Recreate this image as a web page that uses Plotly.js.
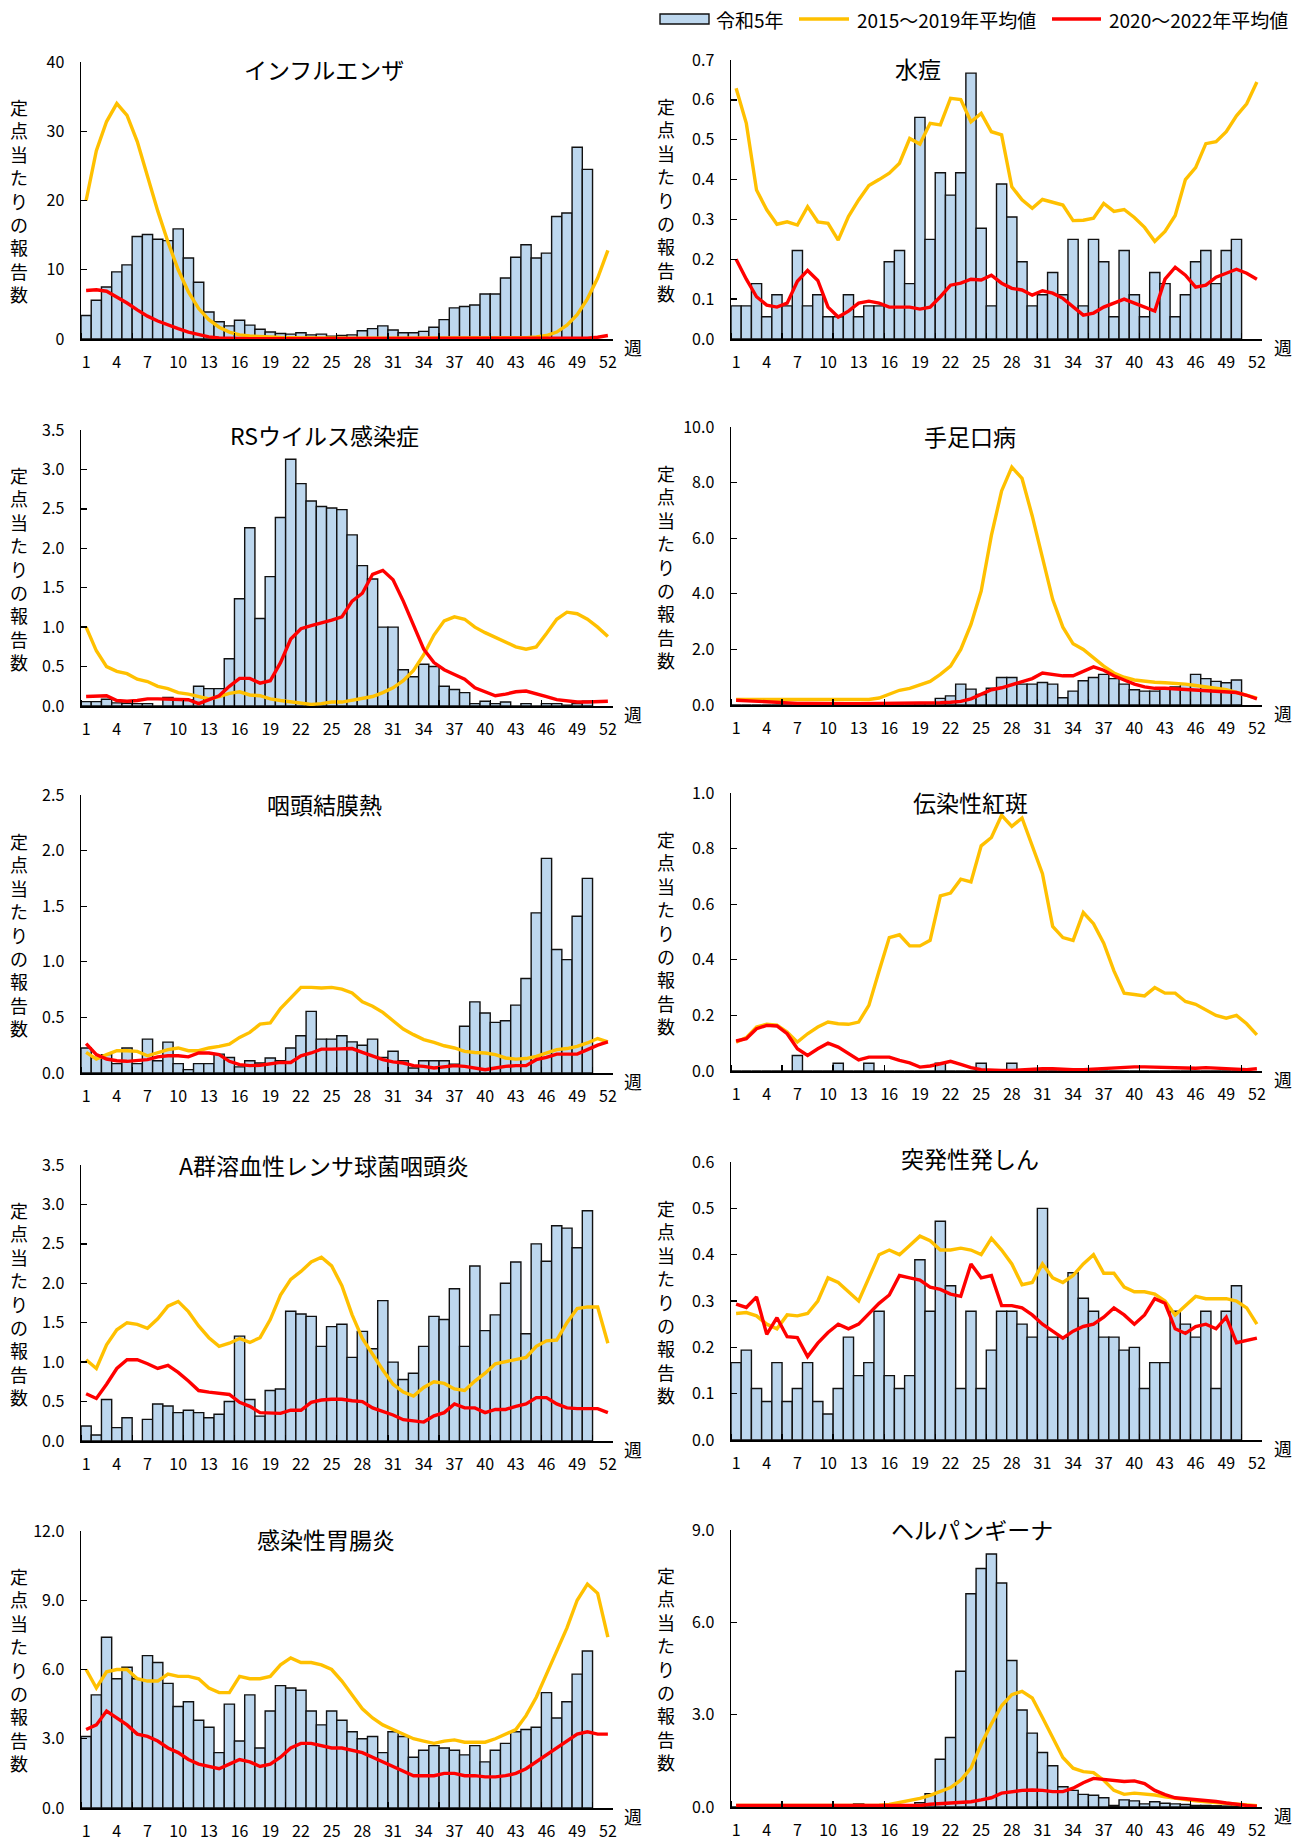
<!DOCTYPE html>
<html><head><meta charset="utf-8">
<script src="https://cdn.plot.ly/plotly-3.0.1.min.js"></script>
<style>html,body{margin:0;padding:0;background:#fff}#chart{width:1304px;height:1842px}</style>
</head><body><div id="chart"></div>
<script>
// ---- categories ----
const weeks = [1,2,3,4,5,6,7,8,9,10,11,12,13,14,15,16,17,18,19,20,21,22,23,24,25,26,27,28,29,30,31,32,33,34,35,36,37,38,39,40,41,42,43,44,45,46,47,48,49,50,51,52];
const weekTicks = [1,4,7,10,13,16,19,22,25,28,31,34,37,40,43,46,49,52];
const seriesNames = ['令和5年','2015～2019年平均値','2020～2022年平均値'];

// ---- インフルエンザ ----
const fluR5 = [3.4,5.6,7.5,9.7,10.7,14.8,15.1,14.4,14.2,15.9,11.7,8.2,3.9,2.5,1.9,2.7,2.0,1.4,1.0,0.8,0.7,0.9,0.6,0.7,0.4,0.5,0.6,1.2,1.5,1.9,1.3,0.9,0.9,1.1,1.7,2.8,4.5,4.7,4.9,6.5,6.5,8.8,11.8,13.6,11.7,12.4,17.7,18.2,27.7,24.5];
const flu1519 = [20.0,27.2,31.4,34.0,32.3,28.5,23.5,18.5,14.0,10.0,6.8,4.4,2.8,1.7,1.0,0.6,0.45,0.35,0.28,0.22,0.18,0.15,0.12,0.1,0.1,0.1,0.1,0.1,0.1,0.1,0.1,0.1,0.1,0.1,0.1,0.1,0.1,0.1,0.1,0.1,0.1,0.12,0.15,0.2,0.3,0.5,1.0,2.0,3.5,5.8,8.8,12.8];
const flu2022 = [7.0,7.1,6.9,6.1,5.2,4.2,3.3,2.6,2.0,1.5,1.0,0.6,0.3,0.15,0.08,0.05,0.05,0.05,0.05,0.05,0.05,0.05,0.05,0.05,0.05,0.05,0.05,0.05,0.05,0.05,0.05,0.05,0.05,0.05,0.05,0.05,0.05,0.05,0.05,0.05,0.05,0.05,0.05,0.05,0.05,0.06,0.07,0.08,0.1,0.12,0.25,0.5];

// ---- 水痘 ----
const varR5 = [0.083,0.083,0.139,0.056,0.111,0.083,0.222,0.083,0.111,0.056,0.056,0.111,0.056,0.083,0.083,0.194,0.222,0.139,0.556,0.25,0.417,0.361,0.417,0.667,0.278,0.083,0.389,0.306,0.194,0.083,0.111,0.167,0.111,0.25,0.083,0.25,0.194,0.056,0.222,0.111,0.056,0.167,0.139,0.056,0.111,0.194,0.222,0.139,0.222,0.25];
const var1519 = [0.629,0.541,0.374,0.324,0.288,0.294,0.286,0.332,0.294,0.29,0.248,0.307,0.349,0.385,0.4,0.416,0.441,0.503,0.489,0.541,0.537,0.604,0.601,0.545,0.566,0.52,0.512,0.382,0.349,0.328,0.35,0.344,0.336,0.297,0.298,0.303,0.34,0.32,0.325,0.305,0.28,0.245,0.27,0.31,0.4,0.43,0.49,0.495,0.52,0.56,0.59,0.645];
const var2022 = [0.2,0.15,0.106,0.085,0.08,0.09,0.145,0.172,0.147,0.08,0.055,0.07,0.09,0.095,0.09,0.08,0.08,0.08,0.075,0.08,0.106,0.135,0.14,0.15,0.148,0.16,0.14,0.127,0.123,0.11,0.121,0.115,0.102,0.081,0.06,0.065,0.08,0.09,0.1,0.09,0.08,0.07,0.15,0.18,0.16,0.13,0.135,0.155,0.165,0.175,0.165,0.15];

// ---- RSウイルス感染症 ----
const rsR5 = [0.055,0.055,0.085,0.04,0.034,0.03,0.03,0,0.11,0.08,0.08,0.25,0.22,0.22,0.6,1.36,2.26,1.11,1.64,2.39,3.13,2.82,2.6,2.53,2.51,2.49,2.17,1.78,1.61,1.0,1.0,0.46,0.37,0.53,0.5,0.25,0.21,0.17,0.03,0.06,0.03,0.05,0,0.03,0,0.03,0.03,0.01,0.03,0.06];
const rs1519 = [1.0,0.7,0.5,0.44,0.41,0.34,0.31,0.25,0.22,0.17,0.15,0.12,0.09,0.12,0.16,0.18,0.14,0.13,0.09,0.07,0.05,0.03,0.02,0.03,0.05,0.05,0.07,0.09,0.12,0.17,0.23,0.32,0.45,0.65,0.9,1.08,1.13,1.1,1.0,0.93,0.87,0.8,0.75,0.72,0.75,0.92,1.1,1.19,1.17,1.1,1.0,0.88];
const rs2022 = [0.12,0.13,0.13,0.07,0.06,0.07,0.09,0.09,0.09,0.08,0.08,0.03,0.08,0.13,0.25,0.35,0.35,0.29,0.32,0.55,0.85,0.98,1.02,1.05,1.09,1.13,1.33,1.43,1.67,1.72,1.6,1.33,1.03,0.72,0.55,0.46,0.4,0.34,0.23,0.18,0.13,0.15,0.18,0.19,0.16,0.12,0.08,0.06,0.05,0.05,0.06,0.06];

// ---- 手足口病 ----
const hfR5 = [0,0,0,0,0,0,0,0,0,0,0,0,0,0,0,0,0,0,0.08,0,0.24,0.33,0.75,0.57,0.38,0.6,0.99,0.99,0.75,0.75,0.81,0.75,0.26,0.5,0.87,0.99,1.1,0.95,0.75,0.55,0.5,0.5,0.6,0.65,0.75,1.1,0.95,0.85,0.8,0.9];
const hf1519 = [0.2,0.2,0.2,0.2,0.2,0.2,0.2,0.2,0.2,0.2,0.2,0.2,0.2,0.2,0.25,0.38,0.53,0.6,0.72,0.85,1.1,1.4,2.0,2.9,4.1,6.1,7.7,8.56,8.15,6.8,5.3,3.8,2.8,2.2,2.0,1.7,1.4,1.15,1.0,0.9,0.85,0.82,0.8,0.78,0.75,0.7,0.65,0.6,0.55,0.45,0.35,0.25];
const hf2022 = [0.17,0.15,0.12,0.1,0.08,0.07,0.06,0.06,0.05,0.05,0.05,0.05,0.05,0.05,0.05,0.05,0.05,0.05,0.06,0.06,0.08,0.1,0.13,0.22,0.4,0.55,0.62,0.72,0.82,0.95,1.15,1.1,1.05,1.05,1.22,1.37,1.25,1.05,0.9,0.75,0.65,0.6,0.6,0.58,0.55,0.55,0.52,0.5,0.5,0.45,0.35,0.22];

// ---- 咽頭結膜熱 ----
const pcfR5 = [0.225,0.14,0.165,0.084,0.225,0.084,0.305,0.11,0.278,0.084,0.03,0.084,0.084,0.17,0.14,0.055,0.11,0.09,0.135,0.11,0.225,0.335,0.554,0.305,0.305,0.335,0.28,0.25,0.305,0.14,0.195,0.11,0.045,0.11,0.11,0.11,0.08,0.42,0.64,0.54,0.455,0.47,0.61,0.85,1.44,1.93,1.11,1.02,1.41,1.75];
const pcf1519 = [0.185,0.126,0.165,0.2,0.2,0.195,0.155,0.185,0.21,0.225,0.2,0.2,0.225,0.24,0.26,0.32,0.365,0.44,0.45,0.58,0.67,0.77,0.77,0.765,0.77,0.755,0.72,0.64,0.6,0.545,0.47,0.395,0.345,0.3,0.275,0.245,0.225,0.195,0.185,0.18,0.165,0.135,0.125,0.13,0.15,0.18,0.21,0.22,0.24,0.27,0.31,0.28];
const pcf2022 = [0.265,0.165,0.126,0.11,0.105,0.11,0.12,0.145,0.155,0.155,0.145,0.18,0.18,0.165,0.105,0.075,0.066,0.07,0.08,0.095,0.095,0.155,0.18,0.215,0.215,0.22,0.22,0.185,0.15,0.12,0.1,0.09,0.066,0.06,0.045,0.054,0.066,0.06,0.045,0.03,0.045,0.06,0.066,0.066,0.12,0.14,0.17,0.17,0.17,0.21,0.25,0.28];

// ---- 伝染性紅斑 ----
const eiR5 = [0,0,0,0,0,0,0.056,0,0,0,0.028,0,0,0.028,0,0,0,0,0,0,0.028,0,0,0,0.028,0,0,0.028,0,0,0,0,0,0,0,0,0,0,0,0,0,0,0,0,0,0,0,0,0,0];
const ei1519 = [0.104,0.12,0.158,0.168,0.165,0.14,0.104,0.134,0.158,0.176,0.17,0.168,0.176,0.236,0.36,0.48,0.49,0.45,0.45,0.47,0.63,0.64,0.69,0.68,0.81,0.84,0.92,0.88,0.91,0.81,0.71,0.52,0.48,0.47,0.57,0.53,0.46,0.36,0.28,0.275,0.27,0.3,0.28,0.28,0.25,0.24,0.22,0.2,0.19,0.2,0.17,0.13];
const ei2022 = [0.108,0.116,0.152,0.164,0.162,0.134,0.08,0.056,0.08,0.1,0.086,0.062,0.04,0.05,0.05,0.05,0.038,0.029,0.014,0.018,0.026,0.035,0.024,0.012,0.005,0.002,0.002,0.002,0.005,0.008,0.008,0.008,0.005,0.005,0.005,0.007,0.01,0.012,0.015,0.015,0.015,0.014,0.012,0.01,0.008,0.01,0.012,0.01,0.008,0.005,0.005,0.008];

// ---- A群溶血性レンサ球菌咽頭炎 ----
const gasR5 = [0.19,0.076,0.527,0.17,0.295,0,0.274,0.47,0.443,0.36,0.39,0.36,0.295,0.34,0.5,1.33,0.527,0.316,0.64,0.66,1.645,1.61,1.58,1.2,1.45,1.48,1.06,1.39,1.17,1.78,1.0,0.78,0.86,1.2,1.58,1.54,1.93,1.2,2.22,1.4,1.6,2.0,2.27,1.36,2.5,2.28,2.73,2.7,2.45,2.92];
const gas1519 = [1.03,0.92,1.22,1.41,1.5,1.48,1.43,1.55,1.71,1.77,1.64,1.46,1.31,1.2,1.24,1.3,1.25,1.31,1.54,1.85,2.05,2.15,2.27,2.33,2.22,1.97,1.6,1.3,1.1,0.9,0.72,0.62,0.57,0.68,0.75,0.73,0.66,0.64,0.76,0.86,0.98,1.01,1.03,1.06,1.2,1.27,1.28,1.5,1.68,1.7,1.7,1.24];
const gas2022 = [0.6,0.54,0.72,0.92,1.03,1.03,0.98,0.92,0.96,0.87,0.76,0.64,0.62,0.6,0.59,0.49,0.44,0.36,0.35,0.35,0.39,0.39,0.49,0.52,0.53,0.53,0.51,0.5,0.42,0.38,0.33,0.27,0.26,0.24,0.32,0.36,0.47,0.42,0.42,0.36,0.4,0.4,0.44,0.47,0.55,0.55,0.47,0.42,0.41,0.41,0.41,0.36];

// ---- 突発性発しん ----
const esR5 = [0.167,0.194,0.111,0.083,0.167,0.083,0.111,0.167,0.083,0.056,0.111,0.222,0.139,0.167,0.278,0.139,0.111,0.139,0.389,0.278,0.472,0.333,0.111,0.278,0.111,0.194,0.278,0.278,0.25,0.222,0.5,0.222,0.222,0.361,0.306,0.278,0.222,0.222,0.194,0.2,0.111,0.167,0.167,0.278,0.25,0.222,0.278,0.111,0.278,0.333];
const es1519 = [0.273,0.275,0.268,0.25,0.24,0.27,0.268,0.273,0.3,0.35,0.34,0.32,0.3,0.35,0.4,0.41,0.4,0.42,0.44,0.43,0.41,0.41,0.414,0.41,0.4,0.435,0.41,0.38,0.335,0.34,0.38,0.35,0.34,0.355,0.38,0.4,0.36,0.36,0.33,0.32,0.32,0.315,0.3,0.27,0.29,0.31,0.305,0.305,0.305,0.3,0.285,0.25];
const es2022 = [0.293,0.286,0.309,0.228,0.264,0.223,0.221,0.18,0.209,0.232,0.25,0.24,0.25,0.273,0.295,0.313,0.355,0.35,0.345,0.33,0.325,0.315,0.31,0.38,0.35,0.355,0.29,0.29,0.285,0.27,0.25,0.235,0.22,0.235,0.245,0.25,0.265,0.285,0.27,0.25,0.27,0.305,0.295,0.24,0.23,0.245,0.25,0.24,0.265,0.21,0.215,0.22];

// ---- 感染性胃腸炎 ----
const igeR5 = [3.1,4.9,7.4,5.6,6.1,5.6,6.6,6.3,5.4,4.4,4.6,3.8,3.5,2.4,4.5,2.9,4.9,2.6,4.2,5.3,5.2,5.1,4.2,3.6,4.2,3.8,3.3,3.0,3.1,2.4,3.3,3.1,2.2,2.5,2.7,2.6,2.5,2.3,2.7,2.0,2.5,2.8,3.3,3.4,3.5,5.0,3.9,4.6,5.8,6.8];
const ige1519 = [6.0,5.2,5.9,6.0,6.0,5.6,5.5,5.5,5.8,5.7,5.7,5.6,5.2,5.0,5.0,5.7,5.6,5.6,5.7,6.2,6.5,6.3,6.3,6.2,6.0,5.5,4.9,4.3,3.9,3.6,3.4,3.2,3.0,2.9,2.8,2.9,2.95,2.85,2.85,2.85,3.0,3.2,3.4,4.0,4.8,5.8,6.8,7.8,9.0,9.7,9.3,7.4];
const ige2022 = [3.4,3.6,4.2,3.9,3.6,3.2,3.1,2.9,2.6,2.4,2.1,1.9,1.8,1.7,1.9,2.1,2.0,1.8,1.9,2.2,2.6,2.8,2.8,2.7,2.6,2.6,2.5,2.4,2.2,2.0,1.8,1.6,1.4,1.4,1.4,1.5,1.5,1.4,1.4,1.35,1.35,1.4,1.5,1.7,2.0,2.3,2.6,2.9,3.2,3.3,3.2,3.2];

// ---- ヘルパンギーナ ----
const hpR5 = [0,0,0,0,0,0,0,0,0,0,0,0,0.1,0.03,0.03,0.03,0.03,0.05,0.14,0.43,1.55,2.26,4.41,6.93,7.75,8.22,7.28,4.76,3.15,2.4,1.77,1.34,0.66,0.54,0.41,0.38,0.3,0.05,0.23,0.2,0.1,0.17,0.12,0.1,0.08,0.05,0.05,0.04,0.03,0.03];
const hp1519 = [0.05,0.05,0.05,0.05,0.05,0.05,0.05,0.05,0.05,0.05,0.05,0.05,0.05,0.05,0.06,0.08,0.14,0.2,0.28,0.38,0.5,0.63,0.87,1.26,2.04,2.7,3.29,3.65,3.76,3.54,2.91,2.26,1.61,1.26,1.15,1.12,0.87,0.54,0.41,0.45,0.43,0.39,0.33,0.28,0.24,0.2,0.17,0.14,0.11,0.08,0.06,0.04];
const hp2022 = [0.05,0.05,0.05,0.05,0.04,0.04,0.04,0.04,0.04,0.04,0.04,0.04,0.04,0.04,0.04,0.04,0.03,0.04,0.05,0.09,0.11,0.12,0.14,0.17,0.23,0.3,0.45,0.5,0.54,0.55,0.54,0.5,0.5,0.61,0.79,0.93,0.9,0.87,0.83,0.85,0.76,0.54,0.4,0.3,0.27,0.25,0.22,0.18,0.13,0.08,0.05,0.03];

// ---- panel definitions (data + axis scale) ----
const panels = [
  {title:'インフルエンザ', r5:fluR5, a:flu1519, b:flu2022, ymax:40, dtick:10, fmt:'d'},
  {title:'水痘', r5:varR5, a:var1519, b:var2022, ymax:0.7, dtick:0.1, fmt:'.1f'},
  {title:'RSウイルス感染症', r5:rsR5, a:rs1519, b:rs2022, ymax:3.5, dtick:0.5, fmt:'.1f'},
  {title:'手足口病', r5:hfR5, a:hf1519, b:hf2022, ymax:10, dtick:2, fmt:'.1f'},
  {title:'咽頭結膜熱', r5:pcfR5, a:pcf1519, b:pcf2022, ymax:2.5, dtick:0.5, fmt:'.1f'},
  {title:'伝染性紅斑', r5:eiR5, a:ei1519, b:ei2022, ymax:1.0, dtick:0.2, fmt:'.1f'},
  {title:'A群溶血性レンサ球菌咽頭炎', r5:gasR5, a:gas1519, b:gas2022, ymax:3.5, dtick:0.5, fmt:'.1f'},
  {title:'突発性発しん', r5:esR5, a:es1519, b:es2022, ymax:0.6, dtick:0.1, fmt:'.1f'},
  {title:'感染性胃腸炎', r5:igeR5, a:ige1519, b:ige2022, ymax:12, dtick:3, fmt:'.1f'},
  {title:'ヘルパンギーナ', r5:hpR5, a:hp1519, b:hp2022, ymax:9, dtick:3, fmt:'.1f'}
];

// ---- page geometry (pixels) ----
const W = 1304, H = 1842;
const COLS = [[81,613],[731,1262]];
const ROWS = [[62,339],[60,339],[430,706],[427,705],[795,1073],[793,1071],[1165,1441],[1162,1440],[1531,1808],[1530,1807]];
const TITLEPOS = [[324,69],[918,67.5],[324,434.5],[970,436],[324,803.5],[970,801.5],[324,1165],[970,1157.5],[326,1539],[972,1528.5]];
const YTITLE_X = [19, 666];
const WEEK_X = [633, 1283];

const FONT = '"Noto Sans CJK JP", "Noto Sans", sans-serif';
const BAR_FILL = '#BDD7EE', C1519 = '#FFC000', C2022 = '#FF0000';
const LW = 3.4;

const traces = [];
const layout = {
  width: W, height: H,
  margin: {l:0, r:0, t:0, b:0},
  paper_bgcolor: '#fff', plot_bgcolor: 'rgba(0,0,0,0)',
  font: {family: FONT, color: '#000', size: 16},
  bargap: 0,
  showlegend: false,
  annotations: [], shapes: []
};

const px2x = p => p / W;
const px2y = p => 1 - p / H;

panels.forEach((p, i) => {
  const col = i % 2;
  const n = i + 1;
  const xk = n === 1 ? 'x' : 'x' + n;
  const yk = n === 1 ? 'y' : 'y' + n;
  const xa = n === 1 ? 'xaxis' : 'xaxis' + n;
  const ya = n === 1 ? 'yaxis' : 'yaxis' + n;
  const [top, bot] = ROWS[i];
  const [l, r] = COLS[col];

  layout[xa] = {
    domain: [px2x(l), px2x(r)], anchor: yk,
    range: [0.5, 52.5], showgrid: false, zeroline: false,
    showline: true, linecolor: '#000', linewidth: 1.5,
    tickmode: 'array', tickvals: weekTicks, ticktext: weekTicks.map(String),
    ticks: '', tickfont: {size: 16, family: FONT, color:'#000'},
    ticklabelstandoff: 8,
    minor: {ticks: 'inside', tick0: 0.5, dtick: 5, ticklen: 6, tickwidth: 1.3, tickcolor: '#000', showgrid: false},
    fixedrange: true
  };
  layout[ya] = {
    domain: [px2y(bot), px2y(top)], anchor: xk,
    range: [0, p.ymax], dtick: p.dtick, tick0: 0, tickformat: p.fmt,
    showgrid: false, zeroline: false,
    showline: true, linecolor: '#000', linewidth: 1.5,
    ticks: 'inside', ticklen: 6, tickwidth: 1.3, tickcolor: '#000',
    tickfont: {size: 16, family: FONT, color:'#000'},
    ticklabelstandoff: 12,
    fixedrange: true
  };

  traces.push({
    type: 'bar', x: weeks.slice(0, p.r5.length), y: p.r5, xaxis: xk, yaxis: yk,
    name: seriesNames[0],
    marker: {color: BAR_FILL, line: {color: '#111', width: 1.4}},
    width: 1, hoverinfo: 'skip'
  });
  traces.push({
    type: 'scatter', mode: 'lines', x: weeks, y: p.a, xaxis: xk, yaxis: yk,
    name: seriesNames[1],
    line: {color: C1519, width: LW}, cliponaxis: false, hoverinfo: 'skip'
  });
  traces.push({
    type: 'scatter', mode: 'lines', x: weeks, y: p.b, xaxis: xk, yaxis: yk,
    name: seriesNames[2],
    line: {color: C2022, width: LW}, cliponaxis: false, hoverinfo: 'skip'
  });

  layout.annotations.push({
    xref: 'paper', yref: 'paper', x: px2x(TITLEPOS[i][0]), y: px2y(TITLEPOS[i][1]),
    xanchor: 'center', yanchor: 'middle', showarrow: false,
    text: p.title, font: {size: 23, family: FONT, color: '#000'}
  });
  layout.annotations.push({
    xref: 'paper', yref: 'paper', x: px2x(YTITLE_X[col]), y: px2y((top + bot) / 2),
    xanchor: 'center', yanchor: 'middle', showarrow: false,
    text: '定<br>点<br>当<br>た<br>り<br>の<br>報<br>告<br>数',
    font: {size: 18, family: FONT, color: '#000'}, align: 'center'
  });
  layout.annotations.push({
    xref: 'paper', yref: 'paper', x: px2x(WEEK_X[col]), y: px2y(bot + 8),
    xanchor: 'center', yanchor: 'middle', showarrow: false,
    text: '週', font: {size: 18, family: FONT, color: '#000'}
  });
});

// ---- legend (key swatches + labels) ----
const LEG_Y = 19;
layout.shapes.push({type:'rect', xref:'paper', yref:'paper',
  x0: px2x(660), x1: px2x(709), y0: px2y(24), y1: px2y(14),
  fillcolor: BAR_FILL, line: {color:'#111', width:1.4}});
layout.shapes.push({type:'line', xref:'paper', yref:'paper',
  x0: px2x(799), x1: px2x(849), y0: px2y(LEG_Y), y1: px2y(LEG_Y),
  line: {color: C1519, width: LW}});
layout.shapes.push({type:'line', xref:'paper', yref:'paper',
  x0: px2x(1052), x1: px2x(1101), y0: px2y(LEG_Y), y1: px2y(LEG_Y),
  line: {color: C2022, width: LW}});
[[714, seriesNames[0]], [855, seriesNames[1]], [1107, seriesNames[2]]].forEach(([x, t]) => {
  layout.annotations.push({xref:'paper', yref:'paper', x: px2x(x), y: px2y(LEG_Y),
    xanchor:'left', yanchor:'middle', showarrow:false, text: t,
    font: {size: 19, family: FONT, color:'#000'}});
});

Plotly.newPlot('chart', traces, layout, {staticPlot: true, displayModeBar: false});
</script>
</body></html>
